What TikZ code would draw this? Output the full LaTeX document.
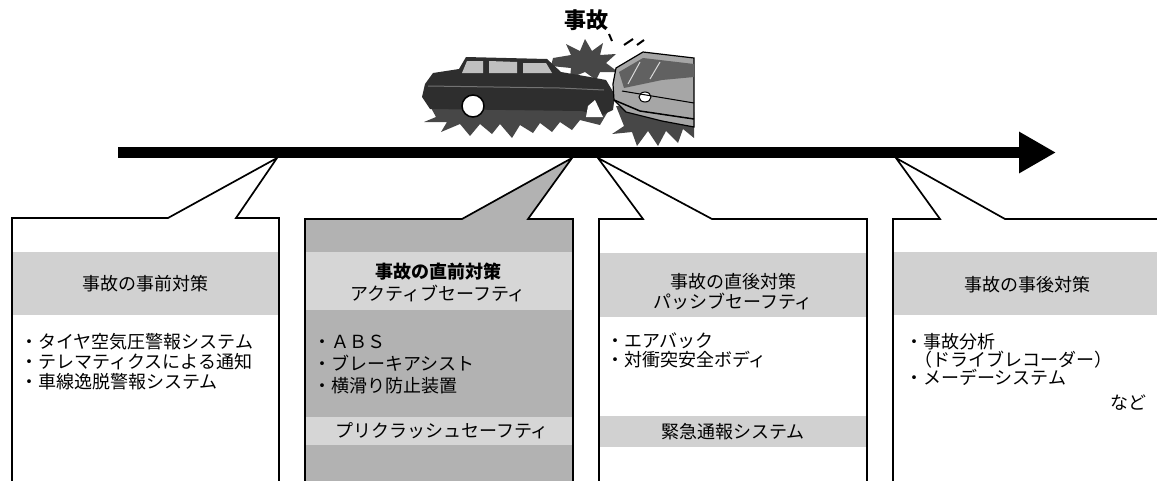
\documentclass[tikz,border=0pt]{standalone}
\usepackage{fontspec}
\setmainfont{Noto Sans CJK JP}
\usetikzlibrary{arrows.meta}
\begin{document}
\begin{tikzpicture}[x=1pt,y=-1pt,
  txt/.style={inner sep=0pt, font=\fontsize{18}{20}\selectfont, text height=14pt, text depth=3pt},
  boxline/.style={draw=black, line width=1.7pt, line join=miter},
  band/.style={fill=black!18},
  lightband/.style={fill=black!16},
  spike/.style={fill=black!72},
]
\useasboundingbox (0,0) rectangle (1157,480);
\clip (0,0) rectangle (1157,480);

% ---------- callout boxes ----------
% box 1: measures before the accident
\path[fill=white] (12,495) -- (12,218) -- (168,218) -- (277,158) -- (236,218) -- (279,218) -- (279,495) -- cycle;
\fill[band] (12,252) rectangle (279,315);
\draw[boxline] (12,495) -- (12,218) -- (168,218) -- (277,158) -- (236,218) -- (279,218) -- (279,495);

% box 2: active safety (shaded)
\path[fill=black!30] (305,495) -- (305,219) -- (462,219) -- (572,158) -- (528,219) -- (573,219) -- (573,495) -- cycle;
\fill[lightband] (305,252) rectangle (573,310);
\fill[lightband] (305,417) rectangle (573,445);
\draw[boxline] (305,495) -- (305,219) -- (462,219) -- (572,158) -- (528,219) -- (573,219) -- (573,495);

% box 3: passive safety
\path[fill=white] (599,495) -- (599,219) -- (643,219) -- (598,158) -- (712,219) -- (867,219) -- (867,495) -- cycle;
\fill[band] (599,253) rectangle (867,317);
\fill[band] (599,416) rectangle (867,447);
\draw[boxline] (599,495) -- (599,219) -- (643,219) -- (598,158) -- (712,219) -- (867,219) -- (867,495);

% box 4: measures after the accident
\path[fill=white] (893,495) -- (893,219) -- (940,219) -- (896,158) -- (1005,219) -- (1170,219) -- (1170,495) -- cycle;
\fill[band] (893,252) rectangle (1170,315);
\draw[boxline] (893,495) -- (893,219) -- (940,219) -- (896,158) -- (1005,219) -- (1170,219);

% ---------- time line ----------
\coordinate (tstart) at (118,152.5);
\coordinate (ttip) at (1056,152.5);
\draw[line width=11.5pt, -{Triangle[length=37pt,width=39pt]}] (tstart) -- (ttip);

% ---------- crash illustration ----------
% burst between the cars
\fill[spike] (553,58) -- (571,55) -- (566,44) -- (580,51) -- (585,39) -- (592,51) -- (603,43) -- (600,55) -- (616,54) -- (606,63) -- (618,72) -- (600,72) -- (596,80) -- (585,72) -- (570,78) -- (571,68) -- (551,66) -- cycle;
% sparks
\draw[line width=2pt] (609,34) -- (612,41);
\draw[line width=2pt] (624,45) -- (633,39);
\draw[line width=2pt] (637,45) -- (644,40);
% ground bursts
\fill[spike] (430,106) -- (436,117) -- (424,122) -- (447,122) -- (441,132) -- (460,124) -- (470,136) -- (480,124) -- (492,134) -- (500,124) -- (512,138) -- (520,125) -- (533,133) -- (540,123) -- (552,132) -- (560,122) -- (572,130) -- (580,120) -- (600,125) -- (610,108) -- cycle;
\fill[spike] (616,106) -- (624,126) -- (612,134) -- (632,132) -- (637,146) -- (648,131) -- (658,146) -- (666,131) -- (678,143) -- (683,129) -- (694,138) -- (694,112) -- cycle;
% dark car
\fill[black!82] (422,97) -- (425,84) -- (433,73) -- (459,69) -- (466,57) -- (547,59) -- (561,72) -- (590,77) -- (606,80) -- (615,95) -- (613,110) -- (600,116) -- (582,111) -- (430,109) -- cycle;
\draw[black!55, line width=1pt] (428,86) -- (560,88) -- (604,90);
\fill[black!25] (467,61) -- (483,61) -- (483,73) -- (462,73) -- cycle;
\fill[black!25] (489,61) -- (517,62) -- (517,73) -- (489,73) -- cycle;
\fill[black!25] (523,63) -- (546,63) -- (552,73) -- (523,73) -- cycle;
\filldraw[fill=white, draw=black, line width=1.5pt] (473,106) circle (11);
\fill[white] (586,117) -- (588,106) -- (595,100) -- (603,117) -- cycle;
% light car
\filldraw[fill=black!35, draw=black, line width=1.2pt] (613,84) -- (616,68) -- (643,52) -- (694,58) -- (694,127) -- (662,121) -- (626,112) -- (614,100) -- cycle;
\fill[black!62] (619,72) -- (643,58) -- (694,64) -- (694,77) -- (662,80) -- (624,88) -- cycle;
\draw[black!15, line width=1pt] (628,84) -- (640,62);
\draw[black!15, line width=1pt] (650,79) -- (660,62);
\filldraw[fill=white, draw=black, line width=1pt] (645,97) ellipse (6 and 5);
\draw[black, line width=1.5pt] (614,100) -- (640,111) -- (694,119);
\draw[black, line width=1pt] (622,91) -- (694,103);

% ---------- texts ----------
\node[font=\fontsize{22}{24}\selectfont\bfseries, inner sep=0pt] (title) at (586,20) {事故};

% box 1
\node[txt] (b1h) at (145.5,285) {事故の事前対策};
\node[txt, anchor=west] (b1i1) at (20,343) {・タイヤ空気圧警報システム};
\node[txt, anchor=west] (b1i2) at (20,363) {・テレマティクスによる通知};
\node[txt, anchor=west] (b1i3) at (20,383) {・車線逸脱警報システム};

% box 2
\node[txt, font=\fontsize{18}{20}\selectfont\bfseries] (b2h1) at (438,273) {事故の直前対策};
\node[txt] (b2h2) at (438,295) {アクティブセーフティ};
\node[txt, anchor=west] (b2i1) at (313,343) {・ＡＢＳ};
\node[txt, anchor=west] (b2i2) at (313,365) {・ブレーキアシスト};
\node[txt, anchor=west] (b2i3) at (313,387) {・横滑り防止装置};
\node[txt] (b2p) at (442,432) {プリクラッシュセーフティ};

% box 3
\node[txt] (b3h1) at (733,283) {事故の直後対策};
\node[txt] (b3h2) at (733,303) {パッシブセーフティ};
\node[txt, anchor=west] (b3i1) at (606,342) {・エアバック};
\node[txt, anchor=west] (b3i2) at (606,361) {・対衝突安全ボディ};
\node[txt] (b3e) at (733,433) {緊急通報システム};

% box 4
\node[txt] (b4h) at (1027,286) {事故の事後対策};
\node[txt, anchor=west] (b4i1) at (905,343) {・事故分析};
\node[txt, anchor=west] (b4i2) at (914,361) {（ドライブレコーダー）};
\node[txt, anchor=west] (b4i3) at (905,379) {・メーデーシステム};
\node[txt, anchor=east] (b4e) at (1147,404) {など};
\end{tikzpicture}
\end{document}
